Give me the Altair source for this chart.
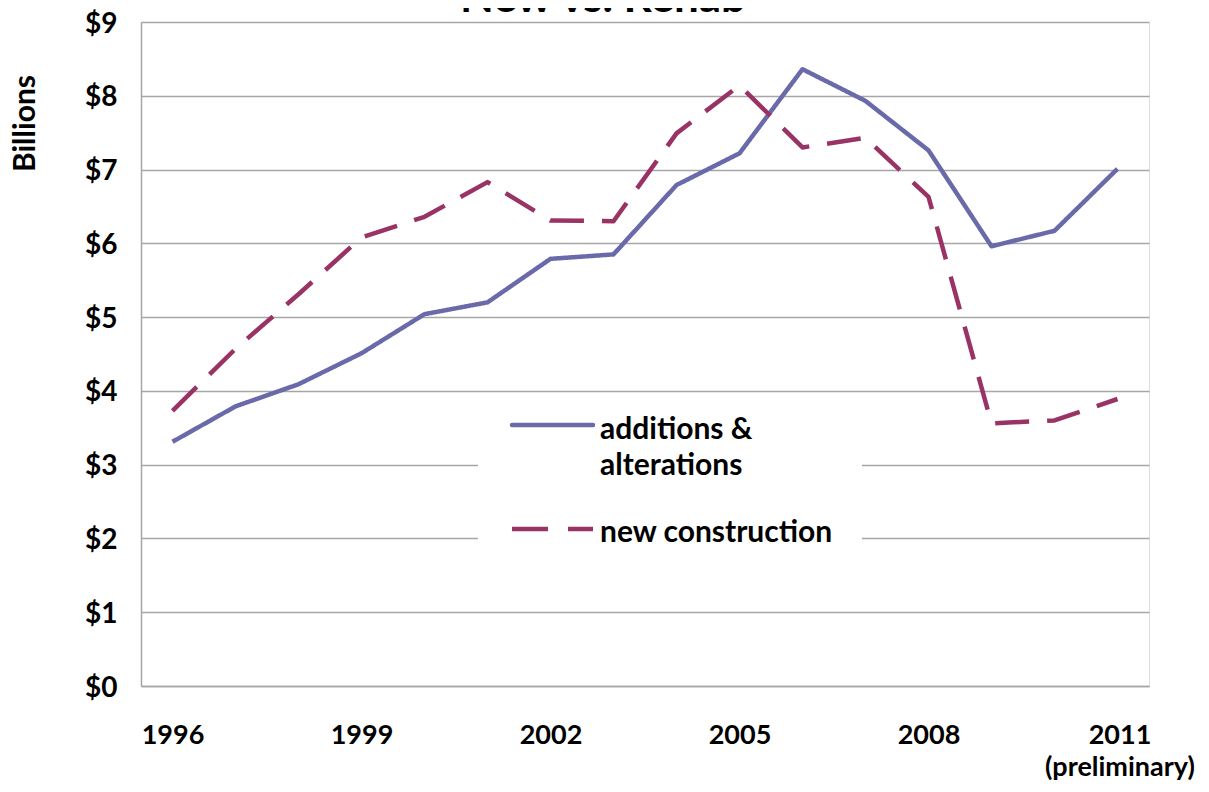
import altair as alt
import pandas as pd

years = list(range(1996, 2012))
additions = [3.31, 3.79, 4.09, 4.51, 5.04, 5.20, 5.79, 5.85, 6.79, 7.22, 8.36, 7.93, 7.26, 5.96, 6.17, 7.01]
new_construction = [3.73, 4.57, 5.31, 6.08, 6.36, 6.83, 6.31, 6.30, 7.49, 8.14, 7.30, 7.43, 6.63, 3.56, 3.60, 3.89]
series_names = ["additions & alterations", "new construction"]
series_colors = ["#6A6AAA", "#993366"]
x_tick_values = [1996, 1999, 2002, 2005, 2008, 2011]
y_tick_values = list(range(0, 10))
title_text = "New vs. Rehab"

rows = []
for y, a, n in zip(years, additions, new_construction):
    rows.append({"year": y, "value": a, "series": series_names[0]})
    rows.append({"year": y, "value": n, "series": series_names[1]})
df = pd.DataFrame(rows)

FONT = "Lato"
GRID = "#A6A6A6"

x_enc = alt.X(
    "year:Q",
    scale=alt.Scale(domain=[1995.5, 2011.5], nice=False, zero=False),
    axis=alt.Axis(
        values=x_tick_values, format="d", title=None, grid=False, ticks=False,
        labelFont=FONT, labelFontWeight="bold", labelFontSize=27, labelColor="black",
        labelPadding=36, labelBaseline="top", labelLineHeight=32,
        labelExpr="datum.value == 2011 ? ['2011', '(preliminary)'] : datum.label",
        labelOffset=alt.condition("datum.value == 2011", alt.value(2), alt.value(0)),
        domainColor=GRID, domainWidth=1.5, labelFlush=False, labelOverlap=False,
    ),
)
y_enc = alt.Y(
    "value:Q",
    scale=alt.Scale(domain=[0, 9], nice=False),
    axis=alt.Axis(
        values=y_tick_values, title="Billions", grid=True, gridColor=GRID, gridWidth=1.5,
        ticks=False, labelExpr="'$' + datum.value", labelOffset=2,
        labelFont=FONT, labelFontWeight="bold", labelFontSize=28, labelColor="black",
        labelPadding=24, domainColor=GRID, domainWidth=1.5,
        titleFont=FONT, titleFontWeight="bold", titleFontSize=30, titleColor="black",
        titleAngle=270, titleX=-116, titleY=101, titleAlign="center", titleBaseline="middle",
    ),
)

lines = alt.Chart(df).mark_line(strokeWidth=4.5, strokeJoin="round", strokeCap="butt").encode(
    x=x_enc,
    y=y_enc,
    color=alt.Color("series:N", scale=alt.Scale(domain=series_names, range=series_colors), legend=None),
    strokeDash=alt.StrokeDash("series:N", scale=alt.Scale(domain=series_names, range=[[1, 0], [34, 18]]), legend=None),
    order=alt.Order("year:Q"),
)

# Legend (drawn inside the plot area)
legend_box = alt.Chart(pd.DataFrame({"k": [0]})).mark_rect(color="white").encode(
    x=alt.value(337), x2=alt.value(721), y=alt.value(378), y2=alt.value(553)
)
leg_solid = alt.Chart(pd.DataFrame({"k": [0]})).mark_rule(
    color=series_colors[0], strokeWidth=4.5, strokeCap="round"
).encode(x=alt.value(371), x2=alt.value(452), y=alt.value(403))
leg_dash = alt.Chart(pd.DataFrame({"k": [0]})).mark_rule(
    color=series_colors[1], strokeWidth=4.5, strokeDash=[36, 20]
).encode(x=alt.value(371), x2=alt.value(452), y=alt.value(507))
leg_text1 = alt.Chart(pd.DataFrame({"t": [["additions &", "alterations"]]})).mark_text(
    font=FONT, fontWeight="bold", fontSize=30, align="left", baseline="alphabetic",
    lineHeight=36, color="black"
).encode(text="t", x=alt.value(459), y=alt.value(417))
leg_text2 = alt.Chart(pd.DataFrame({"t": [series_names[1]]})).mark_text(
    font=FONT, fontWeight="bold", fontSize=30, align="left", baseline="alphabetic", color="black"
).encode(text="t:N", x=alt.value(459), y=alt.value(520))

title = alt.Chart(pd.DataFrame({"t": [title_text]})).mark_text(
    font=FONT, fontWeight="bold", fontSize=44, align="center", baseline="alphabetic", color="black"
).encode(text="t:N", x=alt.value(462), y=alt.value(-10))

chart = alt.layer(legend_box, lines, leg_solid, leg_dash, leg_text1, leg_text2, title).properties(
    width=1008, height=664,
    autosize=alt.AutoSizeParams(type="none"),
    padding={"left": 133, "top": 14, "right": 52, "bottom": 98},
).configure_view(stroke=None).configure(background="white")

chart.save("out.html", embed_options={"renderer": "svg", "actions": False})
